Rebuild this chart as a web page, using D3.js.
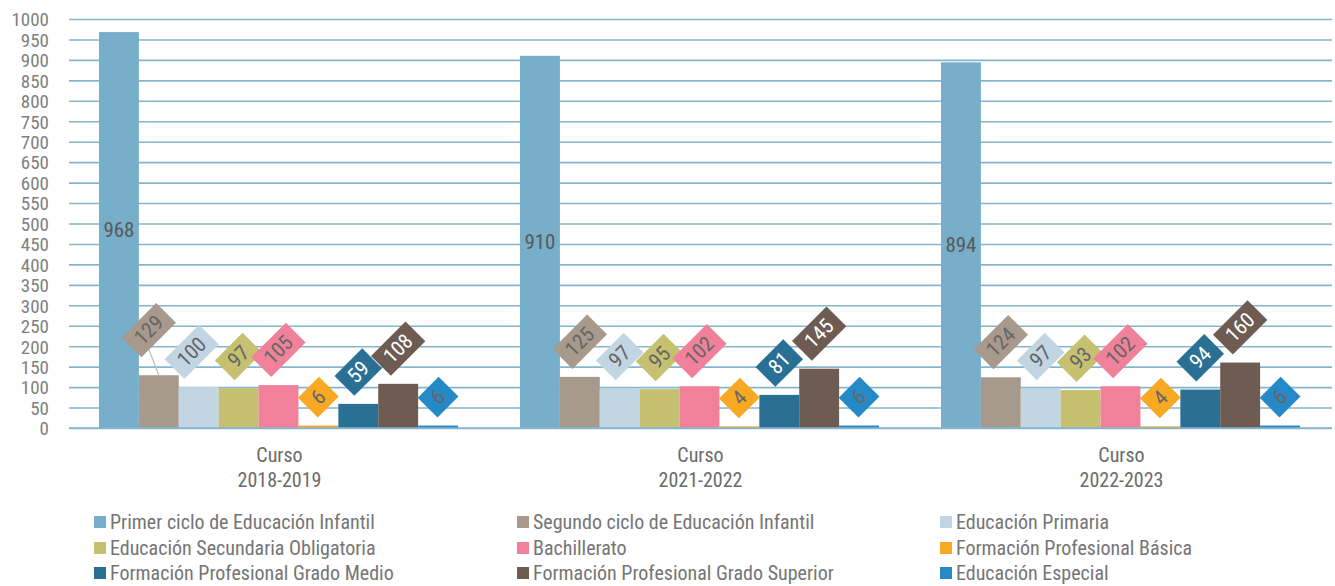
<!DOCTYPE html>
<html><head><meta charset="utf-8">
<script src="https://cdn.jsdelivr.net/npm/d3@7/dist/d3.min.js"></script>
<style>
body{margin:0;background:#fff;}
svg text{font-family:"Liberation Sans Narrow","Roboto Condensed","DejaVu Sans Condensed","Liberation Sans",sans-serif;}
</style></head>
<body><svg id="c" width="1335" height="586"></svg>
<script>
const cursos = ["2018-2019","2021-2022","2022-2023"];
const seriesNames = ["Primer ciclo de Educación Infantil","Segundo ciclo de Educación Infantil","Educación Primaria","Educación Secundaria Obligatoria","Bachillerato","Formación Profesional Básica","Formación Profesional Grado Medio","Formación Profesional Grado Superior","Educación Especial"];
const primerCiclo = [968,910,894];
const segundoCiclo = [129,125,124];
const primaria = [100,97,97];
const eso = [97,95,93];
const bachillerato = [105,102,102];
const fpBasica = [6,4,4];
const fpMedio = [59,81,94];
const fpSuperior = [108,145,160];
const especial = [6,6,6];
const yTicks = [0,50,100,150,200,250,300,350,400,450,500,550,600,650,700,750,800,850,900,950,1000];

const seriesValues = [primerCiclo,segundoCiclo,primaria,eso,bachillerato,fpBasica,fpMedio,fpSuperior,especial];
const colors = ["#77aec9","#a8998d","#c1d5e3","#c5c170","#f1819b","#f8a823","#2a7095","#6e5b51","#2589c7"];
const labelText = ["#595959","#666","#666","#666","#666","#666","#fff","#fff","#666"];

const svg = d3.select("#c");
const mLeft = 69, mRight = 1332, mTop = 19, mBottom = 428;
const y = d3.scaleLinear().domain([0,1000]).range([mBottom, mTop]);
const x0 = d3.scaleBand().domain(cursos).range([mLeft, mRight]).paddingInner(0).paddingOuter(0);
const x1 = d3.scaleBand().domain(d3.range(seriesNames.length)).range([30, x0.bandwidth()-32]).padding(0);

// grid
const yAxis = d3.axisLeft(y).tickValues(yTicks).tickFormat(d3.format("d")).tickSize(-(mRight-mLeft)).tickPadding(20);
const ga = svg.append("g").attr("transform",`translate(${mLeft},0)`).call(yAxis);
ga.select(".domain").remove();
ga.selectAll(".tick line").attr("stroke","#86b6ce").attr("stroke-width",1.6);
ga.selectAll(".tick text").attr("fill","#7f7f7f").attr("font-size",19).attr("x",-20).attr("dy","0.36em");

// bars
const groups = svg.append("g").selectAll("g").data(cursos).join("g")
  .attr("transform",d=>`translate(${x0(d)},0)`);
groups.each(function(c, ci){
  const g = d3.select(this);
  seriesValues.forEach((vals, si)=>{
    g.append("rect").attr("x",x1(si)).attr("width",x1.bandwidth())
     .attr("y",y(vals[ci])).attr("height",y(0)-y(vals[ci]))
     .attr("fill",colors[si]);
  });
});
// baseline
svg.append("line").attr("x1",mLeft).attr("x2",mRight).attr("y1",y(0)).attr("y2",y(0)).attr("stroke","#86b6ce").attr("stroke-width",1.6);

// labels
const fs = 21;
groups.each(function(c, ci){
  const g = d3.select(this);
  seriesValues.forEach((vals, si)=>{
    const v = vals[ci];
    const cx = x1(si) + x1.bandwidth()/2;
    if (si === 0) {
      g.append("text").attr("x",cx).attr("y",(y(v)+y(0))/2).attr("text-anchor","middle")
       .attr("dominant-baseline","central").attr("font-size",fs).attr("fill","#595959").text(v);
      return;
    }
    const digits = String(v).length;
    const w = digits*9.6 + 20, h = 28;
    const bb = (w+h)/Math.SQRT2;
    let dx = 0, dy = 0;
    if (ci===0 && si===1) { dx = -10; dy = -10; }
    if (ci===0 && si===2) { dx = -7; }
    const lx = cx + dx, ly = y(v) - bb/2 - 8 + dy;
    if (dx !== 0 && dy !== 0) {
      g.append("line").attr("x1",cx).attr("y1",y(v)).attr("x2",lx).attr("y2",ly+bb/2-8)
       .attr("stroke","#bdbdbd").attr("stroke-width",1.2);
    }
    const lg = g.append("g").attr("transform",`translate(${lx},${ly}) rotate(-45)`);
    lg.append("rect").attr("x",-w/2).attr("y",-h/2).attr("width",w).attr("height",h).attr("fill",colors[si]);
    lg.append("text").attr("text-anchor","middle").attr("dominant-baseline","central")
      .attr("font-size",fs).attr("fill",labelText[si]).text(v);
  });
});

// category labels
groups.append("text").attr("x",x0.bandwidth()/2).attr("y",462).attr("text-anchor","middle")
  .attr("font-size",20).attr("fill","#6b6b6b").text("Curso");
groups.append("text").attr("x",x0.bandwidth()/2).attr("y",487).attr("text-anchor","middle")
  .attr("font-size",20).attr("fill","#6b6b6b").text(d=>d);

// legend
const legCols = [94,517,940], legRows = [522,548,573];
const lg = svg.append("g").selectAll("g").data(seriesNames).join("g")
  .attr("transform",(d,i)=>`translate(${legCols[i%3]},${legRows[Math.floor(i/3)]})`);
lg.append("rect").attr("x",0).attr("y",-6).attr("width",12).attr("height",12).attr("fill",(d,i)=>colors[i]);
lg.append("text").attr("x",16).attr("y",0).attr("dominant-baseline","central")
  .attr("font-size",20).attr("fill","#757575").text(d=>d);
</script></body></html>
